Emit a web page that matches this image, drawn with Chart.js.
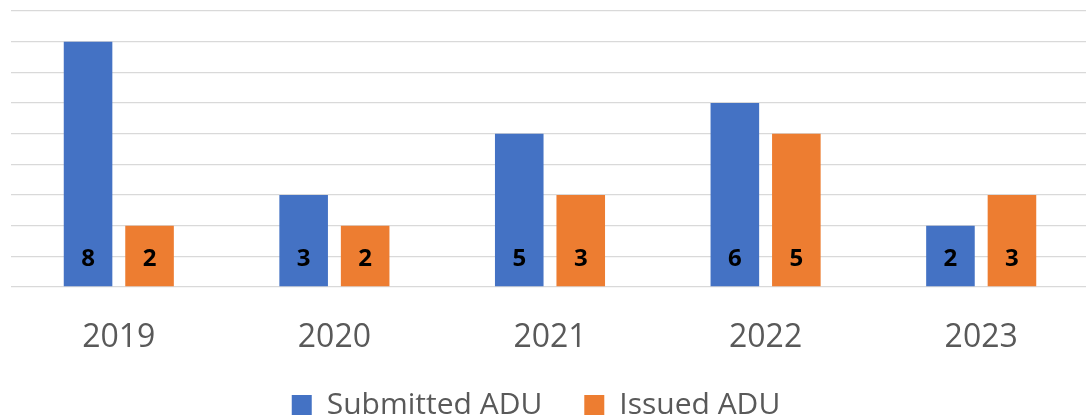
<!DOCTYPE html>
<html><head><meta charset="utf-8">
<script src="https://cdn.jsdelivr.net/npm/chart.js@4.4.0/dist/chart.umd.min.js"></script>
<style>
html,body{margin:0;padding:0;background:#fff;overflow:hidden;width:1086px;height:420px;}
#wrap{position:absolute;left:-17px;top:0;width:1106px;height:430px;}
</style></head>
<body>
<div id="wrap"><canvas id="c" width="1106" height="430"></canvas></div>
<script>
const categories = ["2019","2020","2021","2022","2023"];
const submittedADU = [8,3,5,6,2];
const issuedADU = [2,2,3,5,3];
const yTicks = [0,1,2,3,4,5,6,7,8,9];

const barLabels = {
  id:'barLabels',
  afterDatasetsDraw(chart){
    const ctx = chart.ctx;
    const y0 = chart.scales.y.getPixelForValue(0);
    ctx.save();
    ctx.font = 'bold 24px "Open Sans"';
    ctx.fillStyle = '#000';
    ctx.textAlign = 'center';
    ctx.textBaseline = 'alphabetic';
    chart.data.datasets.forEach((ds,i)=>{
      chart.getDatasetMeta(i).data.forEach((bar,j)=>{
        ctx.fillText(String(ds.data[j]), bar.x, y0 - 21);
      });
    });
    ctx.restore();
  }
};

new Chart(document.getElementById('c'), {
  type:'bar',
  data:{
    labels: categories,
    datasets:[
      {label:'Submitted ADU', data: submittedADU, backgroundColor:'#4472c4'},
      {label:'Issued ADU', data: issuedADU, backgroundColor:'#ed7d31'}
    ]
  },
  options:{
    responsive:false,
    animation:false,
    layout:{padding:{left:0,right:0,top:11,bottom:0}},
    datasets:{bar:{categoryPercentage:0.5705, barPercentage:0.79}},
    plugins:{
      tooltip:{enabled:false},
      legend:{
        position:'bottom',
        labels:{
          boxWidth:20, boxHeight:20, padding:42,
          color:'#595959',
          font:{family:'"Open Sans"', size:30}
        }
      }
    },
    scales:{
      x:{
        grid:{display:false},
        border:{display:false},
        ticks:{color:'#595959', font:{family:'"Open Sans"', size:32}, padding:24},
        afterFit(scale){ scale.height = 61; }
      },
      y:{
        min:0, max:9,
        afterBuildTicks(scale){ scale.ticks = yTicks.map(v=>({value:v})); },
        afterFit(scale){ scale.width = 28; },
        ticks:{display:false},
        border:{display:false},
        grid:{color:'#d9d9d9', lineWidth:1.3, drawTicks:false}
      }
    }
  },
  plugins:[barLabels]
});
</script>
</body></html>
